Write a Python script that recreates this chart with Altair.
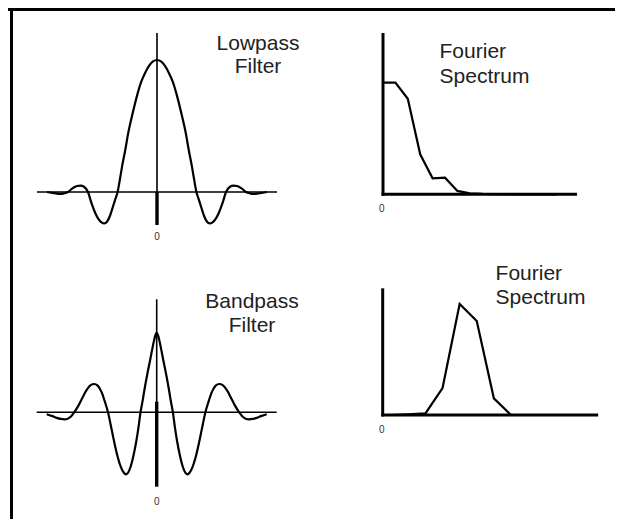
import altair as alt
import pandas as pd

FONT = "Liberation Sans"

# ---------------- data ----------------
# Lowpass filter impulse response: offset from centre, relative amplitude
lp_t = [-1.10, -1.03, -0.97, -0.93, -0.89, -0.85, -0.80, -0.765, -0.73, -0.69,
        -0.655, -0.62, -0.585, -0.555, -0.527, -0.50, -0.47, -0.44, -0.415, -0.394,
        -0.37, -0.35, -0.317, -0.287, -0.25, -0.21, -0.16, -0.12, -0.08, -0.04, 0.0,
        0.04, 0.08, 0.12, 0.16, 0.21, 0.25, 0.287, 0.317, 0.35, 0.37,
        0.394, 0.415, 0.44, 0.47, 0.50, 0.527, 0.555, 0.585, 0.62, 0.655,
        0.69, 0.73, 0.765, 0.80, 0.85, 0.89, 0.93, 0.97, 1.03, 1.10]
lp_amp = [0.0, -0.008, -0.014, -0.01, 0.0, 0.025, 0.045, 0.049, 0.04, 0.0,
          -0.085, -0.155, -0.205, -0.23, -0.238, -0.225, -0.18, -0.11, -0.05, 0.0,
          0.10, 0.19, 0.32, 0.45, 0.575, 0.70, 0.83, 0.90, 0.955, 0.99, 1.0,
          0.99, 0.955, 0.90, 0.83, 0.70, 0.575, 0.45, 0.32, 0.19, 0.10,
          0.0, -0.05, -0.11, -0.18, -0.225, -0.238, -0.23, -0.205, -0.155, -0.085,
          0.0, 0.04, 0.049, 0.045, 0.025, 0.0, -0.01, -0.014, -0.008, 0.0]

# Bandpass filter impulse response
bp_t = [-1.10, -1.05, -1.00, -0.96, -0.922, -0.89, -0.855, -0.825, -0.78, -0.74,
        -0.70, -0.66, -0.625, -0.59, -0.55, -0.52, -0.487, -0.45, -0.42, -0.39,
        -0.357, -0.33, -0.307, -0.285, -0.26, -0.23, -0.205, -0.18, -0.162, -0.14,
        -0.123, -0.10, -0.086, -0.065, -0.045, -0.025, -0.012, 0.0,
        0.012, 0.025, 0.045, 0.065, 0.086, 0.10, 0.123, 0.14, 0.162, 0.18,
        0.205, 0.23, 0.26, 0.285, 0.307, 0.33, 0.357, 0.39, 0.42, 0.45,
        0.487, 0.52, 0.55, 0.59, 0.625, 0.66, 0.70, 0.74, 0.78, 0.825,
        0.855, 0.89, 0.922, 0.96, 1.00, 1.05, 1.10]
bp_amp = [-0.025, -0.045, -0.07, -0.083, -0.088, -0.08, -0.05, 0.0, 0.09, 0.19,
          0.28, 0.34, 0.355, 0.335, 0.25, 0.14, 0.0, -0.22, -0.40, -0.56,
          -0.69, -0.755, -0.778, -0.755, -0.68, -0.53, -0.37, -0.17, 0.0, 0.15,
          0.28, 0.44, 0.531, 0.66, 0.79, 0.91, 0.97, 1.0,
          0.97, 0.91, 0.79, 0.66, 0.531, 0.44, 0.28, 0.15, 0.0, -0.17,
          -0.37, -0.53, -0.68, -0.755, -0.778, -0.755, -0.69, -0.56, -0.40, -0.22,
          0.0, 0.14, 0.25, 0.335, 0.355, 0.34, 0.28, 0.19, 0.09, 0.0,
          -0.05, -0.08, -0.088, -0.083, -0.07, -0.045, -0.025]

# Fourier spectrum of the lowpass filter
lp_k = [0, 1, 2, 3, 4, 5, 6, 7, 8, 9, 10, 11, 12, 13, 14]
lp_mag = [1.0, 1.0, 0.855, 0.358, 0.143, 0.149, 0.03, 0.009, 0.004, 0.002, 0.001,
          0.0, 0.0, 0.0, 0.0]

# Fourier spectrum of the bandpass filter
bp_f = [0.5, 1.5, 2.5, 3.5, 4.5, 5.5, 6.5, 7.5, 8.5, 9.5, 10.5, 11.5, 12.5]
bp_mag = [0.0, 0.006, 0.015, 0.243, 1.0, 0.847, 0.15, 0.0, 0.0, 0.0, 0.0, 0.0, 0.0]

titles = ["Lowpass\nFilter", "Fourier\nSpectrum", "Bandpass\nFilter", "Fourier\nSpectrum"]
zero_label = "0"

lp_df = pd.DataFrame({"t": lp_t, "amp": lp_amp})
bp_df = pd.DataFrame({"t": bp_t, "amp": bp_amp})
lps_df = pd.DataFrame({"k": lp_k, "mag": lp_mag})
bps_df = pd.DataFrame({"k": bp_f, "mag": bp_mag})

one = alt.Data(values=[{}])


def rule(sx, sy, x, y, x2=None, y2=None, w=1.6, cap="butt"):
    enc = dict(x=alt.XDatum(x, scale=sx, axis=None), y=alt.YDatum(y, scale=sy, axis=None))
    if x2 is not None:
        enc["x2"] = alt.X2Datum(x2)
    if y2 is not None:
        enc["y2"] = alt.Y2Datum(y2)
    return alt.Chart(one).mark_rule(color="black", strokeWidth=w, strokeCap=cap).encode(**enc)


def text(sx, sy, x, y, s, size, align, lh=None, color="#222222"):
    kw = dict(text=s, font=FONT, fontSize=size, align=align, baseline="alphabetic", color=color)
    if lh is not None:
        kw["lineBreak"] = "\n"
        kw["lineHeight"] = lh
    return alt.Chart(one).mark_text(**kw).encode(
        x=alt.XDatum(x, scale=sx, axis=None), y=alt.YDatum(y, scale=sy, axis=None))


def curve(df, xf, yf, sx, sy, interp):
    return alt.Chart(df).mark_line(color="black", strokeWidth=2.2, interpolate=interp).encode(
        x=alt.X(f"{xf}:Q", scale=sx, axis=None),
        y=alt.Y(f"{yf}:Q", scale=sy, axis=None),
        order=alt.Order(f"{xf}:Q"),
    )


# ---------------- panel 1: lowpass filter ----------------
sx1 = alt.Scale(domain=[-1.2, 1.2], range=[29, 269], nice=False, zero=False)
sy1 = alt.Scale(domain=[0, 1], range=[184, 52], nice=False, zero=False)
p1 = alt.layer(
    rule(sx1, sy1, -1.2, 0, x2=1.2),
    rule(sx1, sy1, 0, 0, y2=1.205),
    rule(sx1, sy1, 0, 0, y2=-0.25, w=3.4),
    curve(lp_df, "t", "amp", sx1, sy1, "monotone"),
    text(sx1, sy1, 0, -0.364, zero_label, 10, "center", color="#333333"),
    text(sx1, sy1, 1.01, 1.076, titles[0], 21, "center", lh=23.3),
)

# ---------------- panel 2: lowpass spectrum ----------------
sx2 = alt.Scale(domain=[0, 15], range=[375, 561], nice=False, zero=False)
sy2 = alt.Scale(domain=[0, 1], range=[186.3, 74.6], nice=False, zero=False)
p2 = alt.layer(
    curve(lps_df, "k", "mag", sx2, sy2, "linear"),
    rule(sx2, sy2, 0, -0.013, y2=1.444, w=3),
    rule(sx2, sy2, -0.12, 0, x2=15.65, w=3),
    text(sx2, sy2, -0.1, -0.158, zero_label, 10, "center", color="#333333"),
    text(sx2, sy2, 4.56, 1.2176, titles[1], 21, "left", lh=24.4),
)

# ---------------- panel 3: bandpass filter ----------------
sx3 = alt.Scale(domain=[-1.2, 1.2], range=[28.7, 268.7], nice=False, zero=False)
sy3 = alt.Scale(domain=[0, 1], range=[404.3, 324.6], nice=False, zero=False)
p3 = alt.layer(
    rule(sx3, sy3, -1.2, 0, x2=1.2),
    rule(sx3, sy3, 0, 0, y2=1.418),
    rule(sx3, sy3, 0, 0.133, y2=-0.933, w=3.4),
    curve(bp_df, "t", "amp", sx3, sy3, "monotone"),
    text(sx3, sy3, 0, -1.163, zero_label, 10, "center", color="#333333"),
    text(sx3, sy3, 0.953, 1.305, titles[2], 21, "center", lh=23.4),
)

# ---------------- panel 4: bandpass spectrum ----------------
sx4 = alt.Scale(domain=[0, 10], range=[374.7, 545.7], nice=False, zero=False)
sy4 = alt.Scale(domain=[0, 1], range=[407, 296], nice=False, zero=False)
p4 = alt.layer(
    curve(bps_df, "k", "mag", sx4, sy4, "linear"),
    rule(sx4, sy4, 0, -0.013, y2=1.141, w=3),
    rule(sx4, sy4, -0.09, 0, x2=12.6, w=3),
    text(sx4, sy4, -0.06, -0.162, zero_label, 10, "center", color="#333333"),
    text(sx4, sy4, 6.60, 1.216, titles[3], 21, "left", lh=24),
)

# ---------------- frame (top and left edges) ----------------
frame = alt.layer(
    alt.Chart(one).mark_rule(color="black", strokeWidth=3).encode(
        x=alt.value(0), x2=alt.value(607), y=alt.value(1.5)),
    alt.Chart(one).mark_rule(color="black", strokeWidth=3).encode(
        x=alt.value(3.5), y=alt.value(0), y2=alt.value(511)),
)

chart = alt.layer(p1, p2, p3, p4, frame).resolve_scale(
    x="independent", y="independent"
).properties(
    width=607, height=511, padding=0,
    autosize=alt.AutoSizeParams(type="none"),
    background="white",
).configure_view(stroke=None)

chart.save("out.html", embed_options={"renderer": "svg", "actions": False})
